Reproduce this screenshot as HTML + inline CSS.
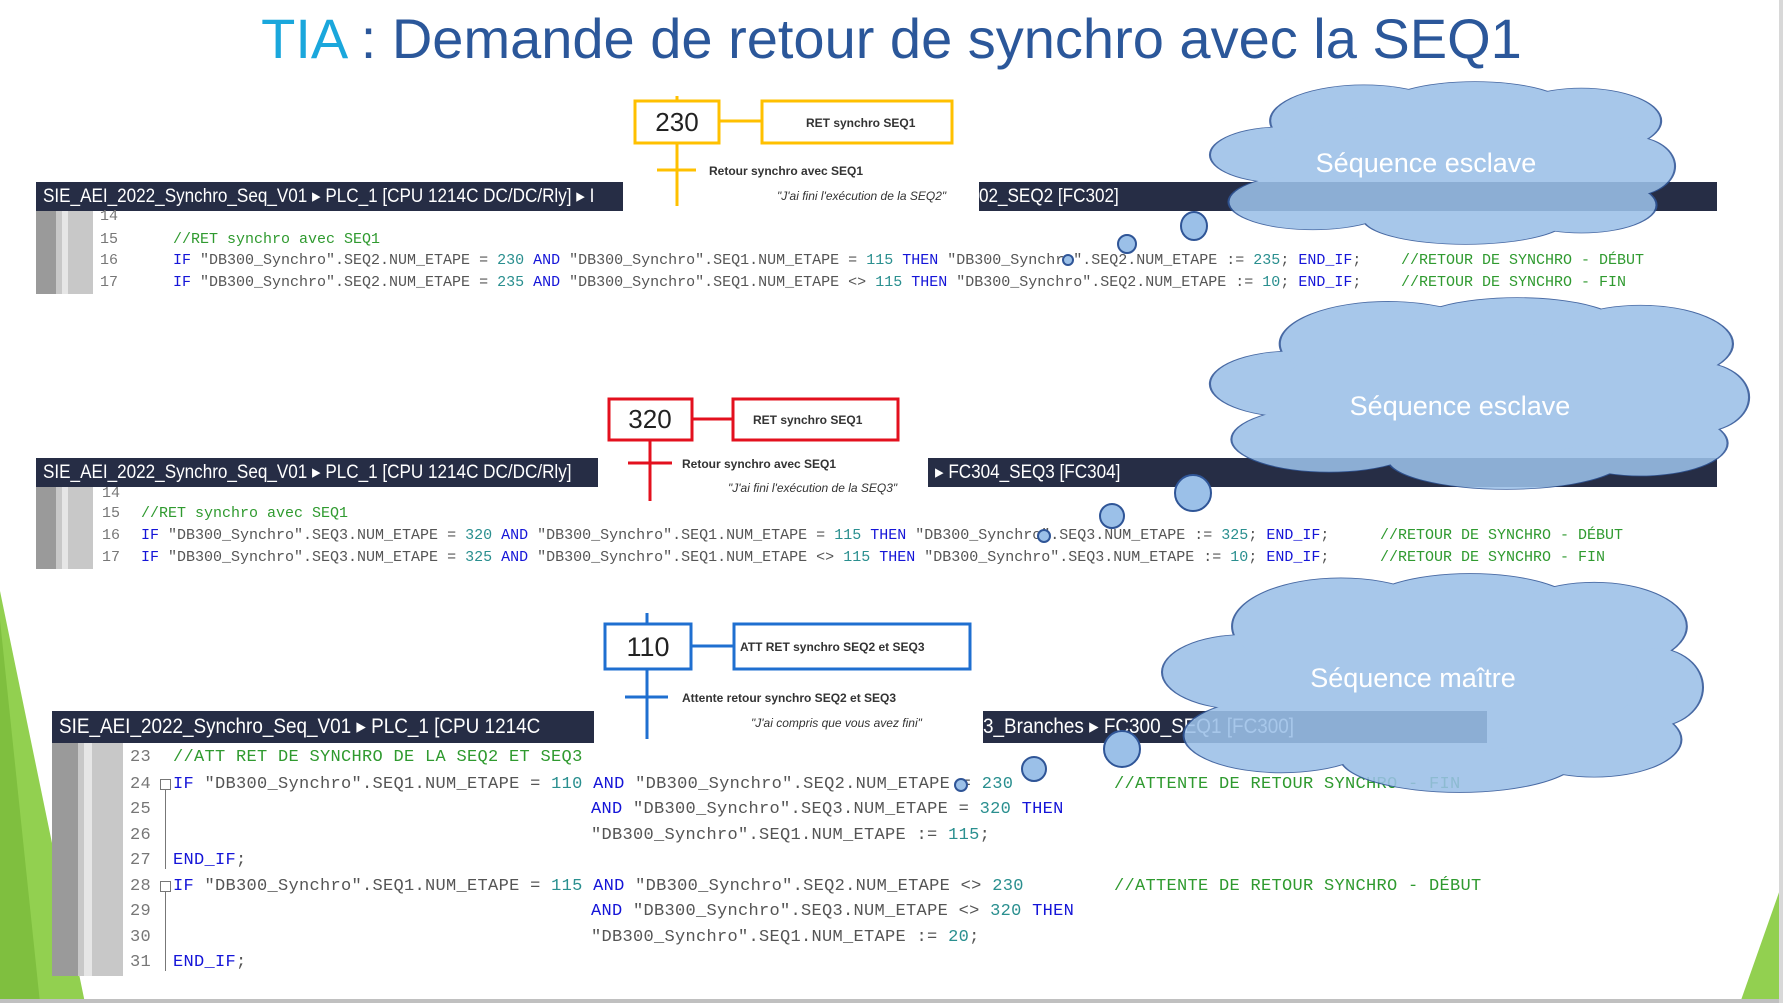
<!DOCTYPE html>
<html><head><meta charset="utf-8"><style>
body{margin:0;width:1783px;height:1003px;position:relative;overflow:hidden;background:#fff;font-family:"Liberation Sans",sans-serif}
.a{position:absolute}
.bar{position:absolute;background:#262d45;color:#fff;font-family:"Liberation Sans",sans-serif;font-size:19px;white-space:nowrap;overflow:hidden;box-sizing:border-box;padding-left:7px}
.bar span{display:inline-block;transform:scaleX(0.9);transform-origin:0 50%}
.code{position:absolute;font-family:"Liberation Mono",monospace;white-space:pre;color:#555;line-height:20px}
.c1{font-size:15px}.c3{font-size:17px;letter-spacing:0.3px}
.k{color:#1515d8}.n{color:#2a8f8f}.c{color:#2f9a2f}.ln{color:#777}
.gut{position:absolute;background:#c8c8c8}
.gd{position:absolute;background:#9a9a9a}
</style></head><body>
<svg class="a" style="left:0;top:0" width="1783" height="1003">
<polygon points="0,591 85,1003 0,1003" fill="#92d050"/>
<polygon points="0,620 40,1003 0,1003" fill="#7fbf3f"/>
<polygon points="1783,881 1783,1003 1740,1003" fill="#92d050"/>
<rect x="0" y="999" width="1783" height="4" fill="#c0c0c0"/>
<rect x="1779" y="0" width="4" height="1003" fill="#d8d8d8"/>
</svg>
<div class="a" style="left:0;width:1783px;top:6px;text-align:center;font-size:56px;color:#2b579a">
<span style="color:#1aa7dc">TIA</span> : Demande de retour de synchro avec la SEQ1</div>

<div class="bar" style="left:36px;top:182px;width:587px;height:29px;line-height:29px"><span>SIE_AEI_2022_Synchro_Seq_V01 &#9656; PLC_1 [CPU 1214C DC/DC/Rly] &#9656; I</span></div>
<div class="bar" style="left:979px;top:182px;width:738px;height:29px;line-height:29px;padding-left:0"><span>02_SEQ2 [FC302]</span></div>
<div class="bar" style="left:36px;top:458px;width:562px;height:29px;line-height:29px"><span>SIE_AEI_2022_Synchro_Seq_V01 &#9656; PLC_1 [CPU 1214C DC/DC/Rly]</span></div>
<div class="bar" style="left:928px;top:458px;width:789px;height:29px;line-height:29px"><span>&#9656; FC304_SEQ3 [FC304]</span></div>
<div class="bar" style="left:52px;top:711px;width:542px;height:32px;line-height:32px;font-size:21px"><span>SIE_AEI_2022_Synchro_Seq_V01 &#9656; PLC_1 [CPU 1214C</span></div>
<div class="bar" style="left:983px;top:711px;width:504px;height:32px;line-height:32px;font-size:21px;padding-left:0"><span>3_Branches &#9656; FC300_SEQ1 [FC300]</span></div>

<div class="gut" style="left:36px;top:211px;width:57px;height:83px"></div>
<div class="gd" style="left:36px;top:211px;width:20px;height:83px"></div>
<div class="a" style="left:62px;top:211px;width:6px;height:83px;background:#e6e6e6"></div>
<div class="gut" style="left:36px;top:487px;width:57px;height:82px"></div>
<div class="gd" style="left:36px;top:487px;width:20px;height:82px"></div>
<div class="a" style="left:62px;top:487px;width:6px;height:82px;background:#e6e6e6"></div>
<div class="gut" style="left:52px;top:743px;width:71px;height:233px"></div>
<div class="gd" style="left:52px;top:743px;width:26px;height:233px"></div>
<div class="a" style="left:84px;top:743px;width:8px;height:233px;background:#e6e6e6"></div>

<div class="code c1 ln" style="left:100px;top:207px">14</div>
<div class="code c1 ln" style="left:100px;top:230px">15</div>
<div class="code c1 ln" style="left:100px;top:251px">16</div>
<div class="code c1 ln" style="left:100px;top:273px">17</div>
<div class="code c1 c" style="left:173px;top:230px">//RET synchro avec SEQ1</div>
<div class="code c1" style="left:173px;top:251px"><span class="k">IF</span> "DB300_Synchro".SEQ2.NUM_ETAPE = <span class="n">230</span> <span class="k">AND</span> "DB300_Synchro".SEQ1.NUM_ETAPE = <span class="n">115</span> <span class="k">THEN</span> "DB300_Synchro".SEQ2.NUM_ETAPE := <span class="n">235</span>; <span class="k">END_IF</span>;</div>
<div class="code c1" style="left:173px;top:273px"><span class="k">IF</span> "DB300_Synchro".SEQ2.NUM_ETAPE = <span class="n">235</span> <span class="k">AND</span> "DB300_Synchro".SEQ1.NUM_ETAPE &lt;&gt; <span class="n">115</span> <span class="k">THEN</span> "DB300_Synchro".SEQ2.NUM_ETAPE := <span class="n">10</span>; <span class="k">END_IF</span>;</div>
<div class="code c1 c" style="left:1401px;top:251px">//RETOUR DE SYNCHRO - DÉBUT</div>
<div class="code c1 c" style="left:1401px;top:273px">//RETOUR DE SYNCHRO - FIN</div>

<div class="code c1 ln" style="left:102px;top:484px">14</div>
<div class="code c1 ln" style="left:102px;top:504px">15</div>
<div class="code c1 ln" style="left:102px;top:526px">16</div>
<div class="code c1 ln" style="left:102px;top:548px">17</div>
<div class="code c1 c" style="left:141px;top:504px">//RET synchro avec SEQ1</div>
<div class="code c1" style="left:141px;top:526px"><span class="k">IF</span> "DB300_Synchro".SEQ3.NUM_ETAPE = <span class="n">320</span> <span class="k">AND</span> "DB300_Synchro".SEQ1.NUM_ETAPE = <span class="n">115</span> <span class="k">THEN</span> "DB300_Synchro".SEQ3.NUM_ETAPE := <span class="n">325</span>; <span class="k">END_IF</span>;</div>
<div class="code c1" style="left:141px;top:548px"><span class="k">IF</span> "DB300_Synchro".SEQ3.NUM_ETAPE = <span class="n">325</span> <span class="k">AND</span> "DB300_Synchro".SEQ1.NUM_ETAPE &lt;&gt; <span class="n">115</span> <span class="k">THEN</span> "DB300_Synchro".SEQ3.NUM_ETAPE := <span class="n">10</span>; <span class="k">END_IF</span>;</div>
<div class="code c1 c" style="left:1380px;top:526px">//RETOUR DE SYNCHRO - DÉBUT</div>
<div class="code c1 c" style="left:1380px;top:548px">//RETOUR DE SYNCHRO - FIN</div>

<div class="code c3 ln" style="left:130px;top:748px">23</div>
<div class="code c3 ln" style="left:130px;top:775px">24</div>
<div class="code c3 ln" style="left:130px;top:800px">25</div>
<div class="code c3 ln" style="left:130px;top:826px">26</div>
<div class="code c3 ln" style="left:130px;top:851px">27</div>
<div class="code c3 ln" style="left:130px;top:877px">28</div>
<div class="code c3 ln" style="left:130px;top:902px">29</div>
<div class="code c3 ln" style="left:130px;top:928px">30</div>
<div class="code c3 ln" style="left:130px;top:953px">31</div>
<div class="a" style="left:160px;top:779px;width:9px;height:9px;border:1px solid #777"></div>
<div class="a" style="left:165px;top:790px;width:1px;height:79px;background:#777"></div>
<div class="a" style="left:160px;top:881px;width:9px;height:9px;border:1px solid #777"></div>
<div class="a" style="left:165px;top:892px;width:1px;height:79px;background:#777"></div>
<div class="code c3 c" style="left:173px;top:748px">//ATT RET DE SYNCHRO DE LA SEQ2 ET SEQ3</div>
<div class="code c3" style="left:173px;top:775px"><span class="k">IF</span> "DB300_Synchro".SEQ1.NUM_ETAPE = <span class="n">110</span> <span class="k">AND</span> "DB300_Synchro".SEQ2.NUM_ETAPE = <span class="n">230</span></div>
<div class="code c3" style="left:591px;top:800px"><span class="k">AND</span> "DB300_Synchro".SEQ3.NUM_ETAPE = <span class="n">320</span> <span class="k">THEN</span></div>
<div class="code c3" style="left:591px;top:826px">"DB300_Synchro".SEQ1.NUM_ETAPE := <span class="n">115</span>;</div>
<div class="code c3 k" style="left:173px;top:851px">END_IF<span style="color:#555">;</span></div>
<div class="code c3" style="left:173px;top:877px"><span class="k">IF</span> "DB300_Synchro".SEQ1.NUM_ETAPE = <span class="n">115</span> <span class="k">AND</span> "DB300_Synchro".SEQ2.NUM_ETAPE &lt;&gt; <span class="n">230</span></div>
<div class="code c3" style="left:591px;top:902px"><span class="k">AND</span> "DB300_Synchro".SEQ3.NUM_ETAPE &lt;&gt; <span class="n">320</span> <span class="k">THEN</span></div>
<div class="code c3" style="left:591px;top:928px">"DB300_Synchro".SEQ1.NUM_ETAPE := <span class="n">20</span>;</div>
<div class="code c3 k" style="left:173px;top:953px">END_IF<span style="color:#555">;</span></div>
<div class="code c3 c" style="left:1114px;top:775px">//ATTENTE DE RETOUR SYNCHRO - FIN</div>
<div class="code c3 c" style="left:1114px;top:877px">//ATTENTE DE RETOUR SYNCHRO - DÉBUT</div>

<svg class="a" style="left:0;top:0" width="1783" height="1003" font-family="Liberation Sans, sans-serif">
<g stroke="#ffc000" stroke-width="3" fill="#fff">
<line x1="677" y1="96" x2="677" y2="206"/>
<line x1="657" y1="170" x2="696" y2="170"/>
<line x1="719" y1="121" x2="762" y2="121"/>
<rect x="635" y="101" width="84" height="42"/>
<rect x="762" y="101" width="190" height="42"/>
</g>
<text x="677" y="131" font-size="26" text-anchor="middle" fill="#222">230</text>
<text x="806" y="127" font-size="12" font-weight="bold" fill="#333">RET synchro SEQ1</text>
<text x="709" y="175" font-size="12" font-weight="bold" fill="#333">Retour synchro avec SEQ1</text>
<text x="777" y="200" font-size="12" font-style="italic" fill="#333">"J'ai fini l'exécution de la SEQ2"</text>

<g stroke="#e3101e" stroke-width="3" fill="#fff">
<line x1="650" y1="440" x2="650" y2="501"/>
<line x1="628" y1="463" x2="672" y2="463"/>
<line x1="692" y1="419" x2="733" y2="419"/>
<rect x="609" y="399" width="83" height="41"/>
<rect x="733" y="399" width="165" height="41"/>
</g>
<text x="650" y="428" font-size="26" text-anchor="middle" fill="#222">320</text>
<text x="753" y="424" font-size="12" font-weight="bold" fill="#333">RET synchro SEQ1</text>
<text x="682" y="468" font-size="12" font-weight="bold" fill="#333">Retour synchro avec SEQ1</text>
<text x="728" y="492" font-size="12" font-style="italic" fill="#333">"J'ai fini l'exécution de la SEQ3"</text>

<g stroke="#1f6fd0" stroke-width="3" fill="#fff">
<line x1="647" y1="613" x2="647" y2="739"/>
<line x1="625" y1="697" x2="668" y2="697"/>
<line x1="691" y1="646" x2="734" y2="646"/>
<rect x="605" y="624" width="86" height="45"/>
<rect x="734" y="624" width="236" height="45"/>
</g>
<text x="648" y="656" font-size="27" text-anchor="middle" fill="#222">110</text>
<text x="740" y="651" font-size="12" font-weight="bold" fill="#333">ATT RET synchro SEQ2 et SEQ3</text>
<text x="682" y="702" font-size="12" font-weight="bold" fill="#333">Attente retour synchro SEQ2 et SEQ3</text>
<text x="751" y="727" font-size="12" font-style="italic" fill="#333">"J'ai compris que vous avez fini"</text>
</svg>

<svg class="a" style="left:0;top:0" width="1783" height="1003">
<defs>
<g id="cl">
<ellipse cx="15" cy="45" rx="15" ry="17"/>
<ellipse cx="22" cy="74" rx="18" ry="17"/>
<ellipse cx="33" cy="24" rx="20" ry="22"/>
<ellipse cx="57" cy="16" rx="20" ry="16"/>
<ellipse cx="80" cy="24" rx="17" ry="20"/>
<ellipse cx="91" cy="52" rx="9" ry="18"/>
<ellipse cx="80" cy="76" rx="16" ry="17"/>
<ellipse cx="55" cy="84" rx="22" ry="16"/>
<ellipse cx="50" cy="50" rx="38" ry="32"/>
</g>
</defs>
<g opacity="0.88">
<g transform="translate(1211,82) scale(4.63,1.62)" fill="#9bc0e8"><use href="#cl" stroke="#2f5597" stroke-width="0.9"/><use href="#cl"/></g>
</g>
<ellipse cx="1194" cy="226" rx="13" ry="14" fill="#9bc0e8" stroke="#2f5597" stroke-width="2"/>
<ellipse cx="1127" cy="244" rx="9" ry="9" fill="#9bc0e8" stroke="#2f5597" stroke-width="2"/>
<ellipse cx="1068" cy="260" rx="5" ry="5" fill="#9bc0e8" stroke="#2f5597" stroke-width="2"/>
<text x="1426" y="172" font-family="Liberation Sans, sans-serif" font-size="27" fill="#fff" text-anchor="middle">Séquence esclave</text>

<g opacity="0.88">
<g transform="translate(1211,298) scale(5.37,1.91)" fill="#9bc0e8"><use href="#cl" stroke="#2f5597" stroke-width="0.8"/><use href="#cl"/></g>
</g>
<ellipse cx="1193" cy="493" rx="18" ry="18" fill="#9bc0e8" stroke="#2f5597" stroke-width="2"/>
<ellipse cx="1112" cy="516" rx="12" ry="12" fill="#9bc0e8" stroke="#2f5597" stroke-width="2"/>
<ellipse cx="1044" cy="536" rx="6" ry="6" fill="#9bc0e8" stroke="#2f5597" stroke-width="2"/>
<text x="1460" y="415" font-family="Liberation Sans, sans-serif" font-size="27" fill="#fff" text-anchor="middle">Séquence esclave</text>

<g opacity="0.88">
<g transform="translate(1163,574) scale(5.39,2.18)" fill="#9bc0e8"><use href="#cl" stroke="#2f5597" stroke-width="0.75"/><use href="#cl"/></g>
</g>
<ellipse cx="1122" cy="749" rx="18" ry="18" fill="#9bc0e8" stroke="#2f5597" stroke-width="2"/>
<ellipse cx="1034" cy="769" rx="12" ry="12" fill="#9bc0e8" stroke="#2f5597" stroke-width="2"/>
<ellipse cx="961" cy="785" rx="6" ry="6" fill="#9bc0e8" stroke="#2f5597" stroke-width="2"/>
<text x="1413" y="687" font-family="Liberation Sans, sans-serif" font-size="27" fill="#fff" text-anchor="middle">Séquence maître</text>
</svg>
</body></html>
